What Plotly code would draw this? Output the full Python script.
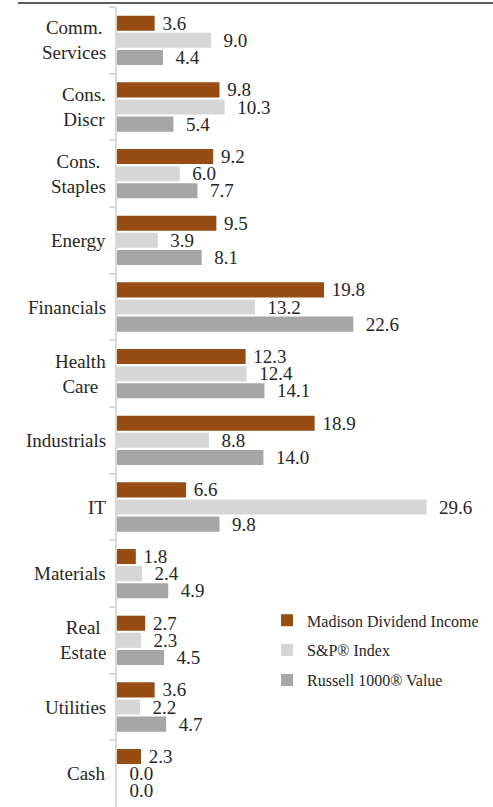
import plotly.graph_objects as go

categories = ["Comm.<br>Services", "Cons.<br>Discr", "Cons.<br>Staples", "Energy", "Financials",
              "Health<br>Care", "Industrials", "IT", "Materials", "Real<br>Estate", "Utilities", "Cash"]
madison = [3.6, 9.8, 9.2, 9.5, 19.8, 12.3, 18.9, 6.6, 1.8, 2.7, 3.6, 2.3]
sp500 = [9.0, 10.3, 6.0, 3.9, 13.2, 12.4, 8.8, 29.6, 2.4, 2.3, 2.2, 0.0]
russell = [4.4, 5.4, 7.7, 8.1, 22.6, 14.1, 14.0, 9.8, 4.9, 4.5, 4.7, 0.0]

series = [("Madison Dividend Income", madison, "#974C11", 1),
          ("S&P® Index", sp500, "#D6D6D6", 2),
          ("Russell 1000® Value", russell, "#A6A6A6", 2)]

FONT = "Liberation Serif"
NBSP = "\u00a0"
fig = go.Figure()
for i, (name, vals, col, pad) in enumerate(series):
    fig.add_trace(go.Bar(
        name=name, y=categories, x=vals, orientation="h", legendgroup=f"g{i}",
        marker=dict(color=col, line=dict(width=0)),
        text=[NBSP * pad + f"{v:.1f}" for v in vals], textposition="outside", constraintext="none",
        textfont=dict(family=FONT, size=19, color="#262626"),
        cliponaxis=False,
    ))

for c in categories:
    fig.add_annotation(x=0, xref="paper", y=c, yref="y", text=c, showarrow=False,
                       xanchor="right", align="center", xshift=-9,
                       font=dict(family=FONT, size=19, color="#262626"))

W, H = 493, 807
ml, mr, mt, mb = 117, 10, 7, 0
pw, ph = W - ml - mr, H - mt - mb
fig.add_shape(type="line", xref="paper", yref="paper",
              x0=(18 - ml) / pw, x1=1 + mr / pw, y0=1 + 4 / ph, y1=1 + 4 / ph,
              line=dict(color="#262626", width=1.5))

fig.update_layout(
    width=W, height=H, margin=dict(l=ml, r=mr, t=mt, b=mb),
    barmode="group", bargap=0.23, bargroupgap=0.12,
    plot_bgcolor="white", paper_bgcolor="white",
    font=dict(family=FONT, color="#262626"),
    xaxis=dict(range=[0, 35], visible=False),
    yaxis=dict(autorange="reversed", showticklabels=False, showline=True, linecolor="#D9D9D9",
               linewidth=2, ticks="outside", tickson="boundaries", ticklen=6, tickcolor="#D9D9D9",
               tickwidth=2, showgrid=False),
    legend=dict(x=0.41, y=0.2545, xanchor="left", yanchor="top",
                font=dict(family=FONT, size=16, color="#262626"),
                bgcolor="rgba(0,0,0,0)", tracegroupgap=6, itemwidth=30),
    showlegend=True,
)
fig.write_html("out.html")
